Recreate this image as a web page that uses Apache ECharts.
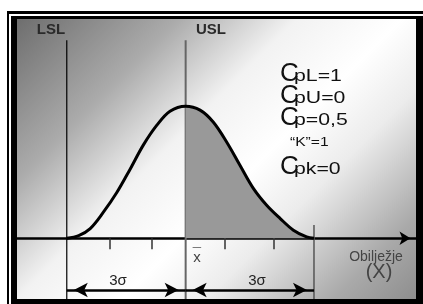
<!DOCTYPE html>
<html>
<head>
    <meta charset="utf-8">
    <title>Cpk</title>
    <script src="https://cdn.jsdelivr.net/npm/echarts@6/dist/echarts.min.js"></script>
    <style>
        html, body { margin: 0; padding: 0; background: #fff; }
        #container { width: 423px; height: 304px; }
    </style>
</head>
<body>
<div id="container"></div>
<script>
    // curve, x in sigma-ish units (0 = mean), y relative to peak
    var curveX = [-2.89, -2.6, -2.32, -2.0, -1.67, -1.35, -1.03, -0.70, -0.38, 0, 0.35, 0.67, 1.0, 1.32, 1.65, 1.97, 2.30, 2.62, 2.94, 3.12];
    var curveY = [0, 0.02, 0.073, 0.197, 0.348, 0.523, 0.705, 0.856, 0.962, 1.0, 0.97, 0.88, 0.727, 0.553, 0.376, 0.25, 0.149, 0.061, 0.01, 0];

    // LSL, mean (USL), right 3 sigma limit
    var limitX = [-2.89, 0, 3.12];
    var limitTop = [1.5, 1.5, 0.10];

    var tickValues = [-1.84, -0.82, 0.96, 2.13];
    var arrowLevel = -0.392;

    var capLabels = ['pL=1', 'pU=0', 'p=0,5', 'pk=0'];

    var curveData = [], shadeData = [];
    for (var i = 0; i < curveX.length; i++) {
        curveData.push([curveX[i], curveY[i]]);
        if (curveX[i] >= 0) {
            shadeData.push([curveX[i], curveY[i]]);
        }
    }

    var limitColors = ['#000', '#666', '#555'];
    var limitWidths = [1.2, 2, 1.5];

    var series = [];
    for (var k = 0; k < limitX.length; k++) {
        series.push({
            type: 'line',
            silent: true,
            symbol: 'none',
            z: 1,
            data: [[limitX[k], -0.46], [limitX[k], limitTop[k]]],
            lineStyle: {color: limitColors[k], width: limitWidths[k]}
        });
    }

    // two 3-sigma spans with arrows
    series[0].markLine = {
        silent: true,
        symbol: ['arrow', 'arrow'],
        symbolSize: [11, 14],
        symbolOffset: [[0, 7], [0, 7]],
        label: {show: false},
        lineStyle: {color: '#000', width: 2.5, type: 'solid'},
        data: [
            [{coord: [limitX[0], arrowLevel]}, {coord: [limitX[1], arrowLevel]}],
            [{coord: [limitX[1], arrowLevel]}, {coord: [limitX[2], arrowLevel]}]
        ]
    };

    series.push({
        type: 'line',
        silent: true,
        showSymbol: false,
        smooth: 0.35,
        z: 3,
        data: shadeData,
        lineStyle: {width: 0},
        areaStyle: {color: '#999999', opacity: 1}
    });

    series.push({
        type: 'line',
        silent: true,
        showSymbol: false,
        smooth: 0.35,
        z: 5,
        data: curveData,
        lineStyle: {color: '#000', width: 3}
    });

    var font = '"Liberation Sans", Arial, sans-serif';
    // x, baseline, text, size, weight, colour, align, horizontal stretch
    var texts = [
        [51, 33, 'LSL', 15, 'bold', '#2a2a2a', 'center', 1],
        [211, 33, 'USL', 15, 'bold', '#2a2a2a', 'center', 1],
        [197, 261, 'x', 15, 'normal', '#444', 'center', 1],
        [197, 257, '¯', 15, 'normal', '#444', 'center', 1],
        [118, 284, '3σ', 15, 'normal', '#222', 'center', 1],
        [257, 284, '3σ', 15, 'normal', '#222', 'center', 1],
        [376, 260, 'Obilježje', 14, 'normal', '#444', 'center', 1],
        [379, 277, '(X)', 20, 'normal', '#444', 'center', 1],
        [290, 144, '“K”=1', 13, 'normal', '#111', 'left', 1.2]
    ];
    var capBase = [80, 102, 124, 173];
    for (var c = 0; c < capLabels.length; c++) {
        texts.push([280, capBase[c], 'C', 26, 'normal', '#111', 'left', 1]);
        texts.push([294, capBase[c], capLabels[c], 17, 'normal', '#111', 'left', 1.25]);
    }

    var graphic = [
        {type: 'rect', z: -10, silent: true, shape: {x: 7, y: 11, width: 500, height: 400}, style: {fill: '#000'}},
        {type: 'rect', z: -9, silent: true, shape: {x: 9, y: 14, width: 500, height: 400}, style: {fill: '#fff'}},
        {type: 'rect', z: -8, silent: true, shape: {x: 11, y: 16, width: 500, height: 400}, style: {fill: '#000'}},
        {
            type: 'rect', z: -7, silent: true,
            shape: {x: 17, y: 19, width: 399, height: 280},
            style: {
                fill: {
                    type: 'linear', x: 17, y: 19, x2: 367, y2: 369, global: true,
                    colorStops: [
                        {offset: 0, color: '#6e6e6e'},
                        {offset: 0.23, color: '#ababab'},
                        {offset: 0.4, color: '#f2f2f2'},
                        {offset: 0.55, color: '#ffffff'},
                        {offset: 0.67, color: '#ececec'},
                        {offset: 0.85, color: '#aaaaaa'},
                        {offset: 1, color: '#878787'}
                    ]
                }
            }
        }
    ];
    texts.forEach(function (t) {
        graphic.push({
            type: 'text', z: 100, silent: true,
            x: t[0], y: t[1] - 0.85 * t[3] + 2.5, scaleX: t[7],
            style: {
                text: t[2],
                font: t[4] + ' ' + t[3] + 'px ' + font,
                fill: t[5],
                align: t[6],
                verticalAlign: 'top'
            }
        });
    });

    var myChart = echarts.init(document.getElementById('container'));
    myChart.setOption({
        animation: false,
        backgroundColor: '#fff',
        grid: {left: 17, right: 7, top: 19, bottom: 5, containLabel: false},
        xAxis: {
            type: 'value',
            min: -4.1,
            max: 5.6,
            splitLine: {show: false},
            axisLabel: {show: false},
            axisLine: {
                show: true,
                onZero: true,
                symbol: ['none', 'arrow'],
                symbolSize: [10, 11],
                symbolOffset: [0, -5.5],
                lineStyle: {color: '#000', width: 2.5}
            },
            axisTick: {
                show: true,
                customValues: tickValues,
                length: 11,
                lineStyle: {color: '#333', width: 1.5}
            }
        },
        yAxis: {
            type: 'value',
            min: -0.46,
            max: 1.66,
            show: false
        },
        graphic: graphic,
        series: series
    });
</script>
</body>
</html>
